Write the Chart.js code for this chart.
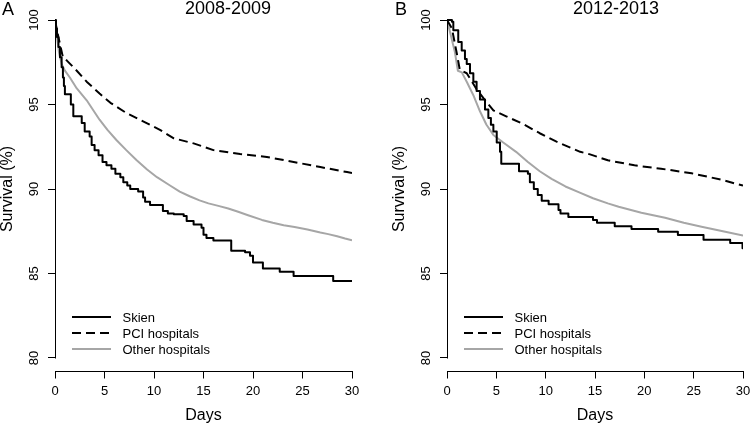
<!DOCTYPE html>
<html>
<head>
<meta charset="utf-8">
<script src="https://cdn.jsdelivr.net/npm/chart.js@4.4.1/dist/chart.umd.min.js"></script>
<style>
  body { margin: 0; background: #fff; }
  #wrap { position: relative; width: 750px; height: 426px; overflow: hidden; }
  canvas { position: absolute; top: 0; }
</style>
</head>
<body>
<div id="wrap">
  <canvas id="chartA" width="375" height="426" style="left:0"></canvas>
  <canvas id="chartB" width="375" height="426" style="left:375px"></canvas>
</div>
<script>
// tick labels
const xTicks = [0, 5, 10, 15, 20, 25, 30];
const yTicks = [80, 85, 90, 95, 100];
const seriesNames = ['Skien', 'PCI hospitals', 'Other hospitals'];

// 2008-2009 (panel A) - days / survival (%)
const tSkienA = [0, 0.1, 0.2, 0.35, 0.5, 0.67, 0.8, 0.9, 1.0, 1.6, 1.85, 2.7, 3.0, 3.5, 3.7, 4.0, 4.4, 4.8, 5.2, 5.7,
  6.1, 6.6, 6.9, 7.3, 7.6, 8.4, 8.9, 9.1, 9.6, 10.9, 11.4, 12.0, 13.0, 13.3, 14.0, 14.8, 15.0, 15.3, 16.0, 17.8,
  19.2, 19.7, 20.0, 21.0, 22.7, 24.1, 28.1, 30];
const sSkienA = [100, 99.5, 99.0, 98.4, 97.8, 97.2, 96.6, 96.1, 95.6, 95.0, 94.3, 93.9, 93.4, 93.1, 92.6, 92.3, 92.0, 91.6, 91.4, 91.2,
  90.9, 90.7, 90.4, 90.2, 90.0, 89.85, 89.5, 89.25, 89.05, 88.7, 88.55, 88.5, 88.4, 88.1, 87.9, 87.7, 87.3, 87.1, 86.95, 86.35,
  86.25, 86.05, 85.65, 85.3, 85.1, 84.85, 84.55, 84.55];
const tPciA = [0, 0.34, 0.8, 1.2, 2.2, 3.2, 4.5, 5.6, 7.2, 8.9, 10.6, 12.0, 14.0, 16.0, 18.7, 21.4, 24.1, 26.8, 29.5, 30];
const sPciA = [100, 99.0, 97.8, 97.6, 97.0, 96.35, 95.65, 95.1, 94.5, 94.0, 93.5, 93.0, 92.7, 92.3, 92.07, 91.9, 91.6, 91.3, 91.0, 90.95];
const tOtherA = [0, 0.2, 0.4, 0.67, 1.0, 1.5, 2.2, 3.2, 4.5, 5.3, 6.2, 7.2, 8.25, 9.3, 10.3, 11.5, 12.6, 13.6, 14.6, 15.5,
  16.5, 17.5, 18.5, 19.5, 20.9, 22.0, 23.1, 24.2, 25.5, 26.8, 27.6, 28.5, 29.3, 30];
const sOtherA = [100, 99.0, 98.1, 97.4, 97.0, 96.6, 95.95, 95.25, 94.1, 93.5, 92.9, 92.3, 91.7, 91.15, 90.7, 90.25, 89.85, 89.57, 89.33, 89.15,
  89.0, 88.85, 88.65, 88.45, 88.17, 88.0, 87.85, 87.75, 87.6, 87.42, 87.33, 87.2, 87.07, 86.97];

// 2012-2013 (panel B)
const tSkienB = [0, 0.5, 0.64, 1.14, 1.49, 1.82, 2.0, 2.33, 2.67, 3.0, 3.34, 3.85, 4.19, 4.45, 4.7, 5.04, 5.37, 5.5, 7.3, 8.2,
  8.4, 8.8, 9.2, 9.6, 10.3, 11.3, 11.5, 12.3, 14.8, 15.2, 17.0, 18.7, 21.4, 23.4, 26.0, 28.7, 29.95, 30];
const sSkienB = [100, 99.9, 99.4, 98.7, 98.2, 97.7, 97.4, 96.85, 96.35, 95.8, 95.3, 94.7, 94.2, 93.8, 93.4, 92.75, 92.2, 91.5, 91.05, 90.9,
  90.4, 90.0, 89.65, 89.3, 89.1, 88.75, 88.55, 88.35, 88.17, 88.0, 87.8, 87.63, 87.47, 87.28, 87.0, 86.8, 86.5, 86.5];
const tPciB = [0, 0.5, 1.0, 1.3, 2.0, 3.0, 4.0, 4.7, 6.0, 7.7, 9.4, 11.1, 13.5, 14.5, 16.3, 19.0, 21.7, 24.8, 27.8, 30];
const sPciB = [100, 99.5, 98.0, 97.05, 96.85, 95.9, 95.15, 94.65, 94.3, 93.85, 93.3, 92.8, 92.2, 92.05, 91.7, 91.4, 91.2, 90.93, 90.55, 90.2];
const tOtherB = [0, 0.3, 0.8, 1.1, 1.5, 2.0, 2.67, 3.34, 4.0, 4.7, 5.7, 7.0, 8.2, 9.4, 10.6, 12.0, 13.4, 14.8, 16.3, 17.4,
  19.7, 22.1, 24.0, 25.8, 28.2, 30];
const sOtherB = [100, 99.3, 98.1, 97.0, 96.9, 96.35, 95.55, 94.6, 93.8, 93.2, 92.75, 92.2, 91.6, 91.05, 90.6, 90.15, 89.8, 89.45, 89.15, 88.95,
  88.6, 88.3, 88.0, 87.77, 87.47, 87.25];

const FONT = '"Liberation Sans", Arial, Helvetica, sans-serif';
Chart.defaults.font.family = FONT;
Chart.defaults.color = '#000';

const pts = (t, s) => t.map((v, i) => ({ x: v, y: s[i] }));

// R-like extras: y axis line only over tick range, panel letter/title, legend inside plot
const rStyle = {
  id: 'rStyle',
  afterDraw(chart, args, opts) {
    const ctx = chart.ctx;
    const area = chart.chartArea;
    const ys = chart.scales.y;
    ctx.save();
    ctx.strokeStyle = '#000';
    ctx.lineWidth = 1;
    const ax = Math.round(area.left) + 0.5;
    ctx.beginPath();
    ctx.moveTo(ax, Math.round(ys.getPixelForValue(yTicks[0])) + 0.5);
    ctx.lineTo(ax, Math.round(ys.getPixelForValue(yTicks[yTicks.length - 1])) + 0.5);
    ctx.stroke();

    ctx.fillStyle = '#000';
    ctx.font = '18px ' + FONT;
    ctx.textBaseline = 'alphabetic';
    ctx.textAlign = 'left';
    ctx.fillText(opts.letter, opts.letterX, 15);
    ctx.textAlign = 'center';
    ctx.fillText(opts.title, opts.titleX, 14);

    ctx.font = '13px ' + FONT;
    ctx.textAlign = 'left';
    ctx.textBaseline = 'middle';
    chart.data.datasets.forEach((ds, i) => {
      const ly = Math.round(area.bottom - 55 + i * 16);
      ctx.strokeStyle = ds.borderColor;
      ctx.lineWidth = ds.borderWidth;
      ctx.setLineDash(ds.borderDash || []);
      ctx.beginPath();
      ctx.moveTo(area.left + 17, ly);
      ctx.lineTo(area.left + 56, ly);
      ctx.stroke();
      ctx.setLineDash([]);
      ctx.fillText(ds.label, area.left + 67.5, ly + 1);
    });
    ctx.restore();
  }
};

function makeChart(id, skien, pci, other, panel, pad) {
  return new Chart(document.getElementById(id), {
    type: 'line',
    data: {
      datasets: [{
        label: seriesNames[0],
        data: skien,
        borderColor: '#000',
        borderWidth: 2,
        stepped: true
      },
      {
        label: seriesNames[1],
        data: pci,
        borderColor: '#000',
        borderWidth: 2,
        borderDash: [9, 5]
      },
      {
        label: seriesNames[2],
        data: other,
        borderColor: '#a6a6a6',
        borderWidth: 2
      }]
    },
    options: {
      responsive: false,
      animation: false,
      events: [],
      elements: { point: { radius: 0 }, line: { tension: 0, borderJoinStyle: 'round' } },
      layout: { padding: pad },
      scales: {
        x: {
          type: 'linear',
          min: 0,
          max: 30,
          afterBuildTicks: s => { s.ticks = xTicks.map(v => ({ value: v })); },
          afterFit: s => { s.height = 54.5; s.paddingLeft = 0; s.paddingRight = 0; },
          border: { display: true, color: '#000', width: 1 },
          grid: { drawOnChartArea: false, tickLength: 7, color: '#000' },
          ticks: { padding: 5, maxRotation: 0, font: { size: 13 }, color: '#000' },
          title: { display: true, text: 'Days', font: { size: 16, lineHeight: 1 }, padding: { top: 0, bottom: 2 }, color: '#000' }
        },
        y: {
          type: 'linear',
          min: 79.2,
          max: 100.8,
          afterBuildTicks: s => { s.ticks = yTicks.map(v => ({ value: v })); },
          afterFit: s => { s.width = 55; s.paddingTop = 0; s.paddingBottom = 0; },
          border: { display: false },
          grid: { drawOnChartArea: false, tickLength: 7, color: '#000' },
          ticks: { minRotation: 90, maxRotation: 90, crossAlign: 'center', padding: 3, font: { size: 13 }, color: '#000' },
          title: { display: true, text: 'Survival (%)', font: { size: 16, lineHeight: 1 }, padding: 0, color: '#000' }
        }
      },
      plugins: {
        legend: { display: false },
        tooltip: { enabled: false },
        rStyle: panel
      }
    },
    plugins: [rStyle]
  });
}

makeChart('chartA', pts(tSkienA, sSkienA), pts(tPciA, sPciA), pts(tOtherA, sOtherA),
  { letter: 'A', letterX: 2, title: '2008-2009', titleX: 228 },
  { left: 0, top: 6.5, right: 23, bottom: 0 });
makeChart('chartB', pts(tSkienB, sSkienB), pts(tPciB, sPciB), pts(tOtherB, sOtherB),
  { letter: 'B', letterX: 20, title: '2012-2013', titleX: 241 },
  { left: 17, top: 6.5, right: 7, bottom: 0 });
</script>
</body>
</html>
